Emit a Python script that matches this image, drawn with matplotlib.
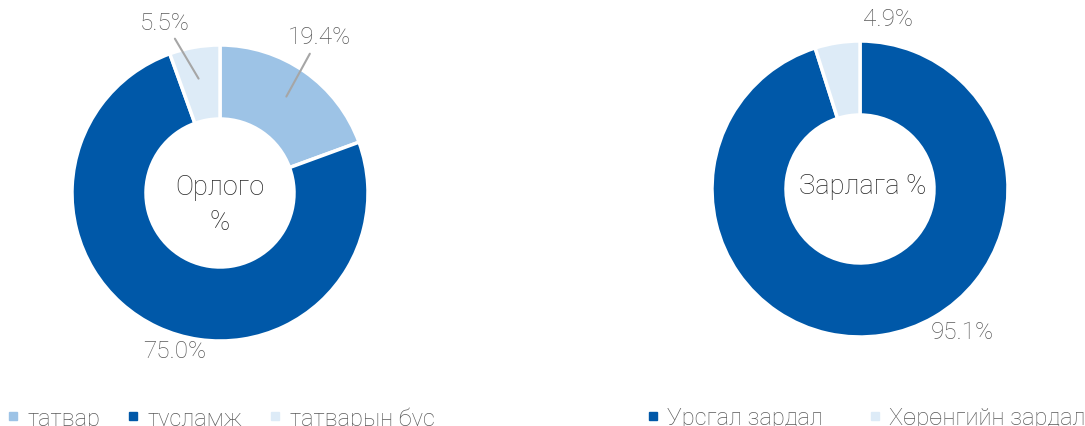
import matplotlib
matplotlib.use("Agg")
import matplotlib.pyplot as plt
from matplotlib.lines import Line2D

plt.rcParams['font.family'] = ['Roboto', 'DejaVu Sans']

# Data
income_labels = ["татвар", "тусламж", "татварын бус"]
income_values = [19.4, 75.0, 5.5]
expense_labels = ["Урсгал зардал", "Хөрөнгийн зардал"]
expense_values = [95.1, 4.9]

c_light = "#9DC3E6"
c_dark = "#0058A8"
c_pale = "#DDEBF7"
income_colors = [c_light, c_dark, c_pale]
expense_colors = [c_dark, c_pale]
txt = "#595959"

W, H = 1085, 427
fig = plt.figure(figsize=(W / 100, H / 100), dpi=100)
ax = fig.add_axes([0, 0, 1, 1])

R = 148
wp = dict(width=R * 0.5, edgecolor='white', linewidth=2.5)

ax.pie(income_values, colors=income_colors, startangle=90, counterclock=False,
       center=(220, H - 194), radius=R, wedgeprops=wp, frame=True)
ax.pie(expense_values, colors=expense_colors, startangle=90, counterclock=False,
       center=(860, H - 190), radius=R, wedgeprops=wp, frame=True)
ax.set_xlim(0, W)
ax.set_ylim(0, H)
ax.set_aspect('equal')
ax.axis('off')

fs = 17.5
lw = dict(arrowstyle='-', color='#A6A6A6', lw=1.5)
ax.annotate(f"{income_values[0]}%", xy=(285, H - 100), xytext=(319, H - 38),
            ha='center', va='center', fontsize=fs, color=txt, fontweight='light',
            arrowprops=lw)
ax.annotate(f"{income_values[2]}%", xy=(200, H - 82), xytext=(165, H - 23),
            ha='center', va='center', fontsize=fs, color=txt, fontweight='light',
            arrowprops=lw)
ax.text(175, H - 352, f"{income_values[1]}%", ha='center', va='center',
        fontsize=fs, color=txt, fontweight='light')
ax.text(888, H - 20, f"{expense_values[1]}%", ha='center', va='center',
        fontsize=fs, color=txt, fontweight='light')
ax.text(962, H - 333, f"{expense_values[0]}%", ha='center', va='center',
        fontsize=fs, color=txt, fontweight='light')

cfs = 19.5
ax.text(220, H - 205, "Орлого\n%", ha='center', va='center', fontsize=cfs,
        color='#262626', fontweight='light', linespacing=1.4)
ax.text(863, H - 187, "Зарлага %", ha='center', va='center', fontsize=cfs,
        color='#262626', fontweight='light')

def handles(colors):
    return [Line2D([], [], marker='s', linestyle='', markersize=6,
                   markerfacecolor=c, markeredgecolor=c) for c in colors]

lfs = 17
leg1 = ax.legend(handles(income_colors), income_labels, loc='center left',
                 bbox_to_anchor=(-8 / W, 1 - 419 / H), ncol=3, frameon=False,
                 handlelength=0.4, handletextpad=0.4, borderpad=0.2,
                 columnspacing=1.2, labelcolor=txt, prop=dict(weight='light', size=lfs))
ax.add_artist(leg1)
leg2 = ax.legend(handles(expense_colors), expense_labels, loc='center left',
                 bbox_to_anchor=(632 / W, 1 - 419 / H), ncol=2, frameon=False,
                 handlelength=0.4, handletextpad=0.4, borderpad=0.2,
                 columnspacing=2.0, labelcolor=txt, prop=dict(weight='light', size=lfs))

fig.savefig("out.png", dpi=100)
